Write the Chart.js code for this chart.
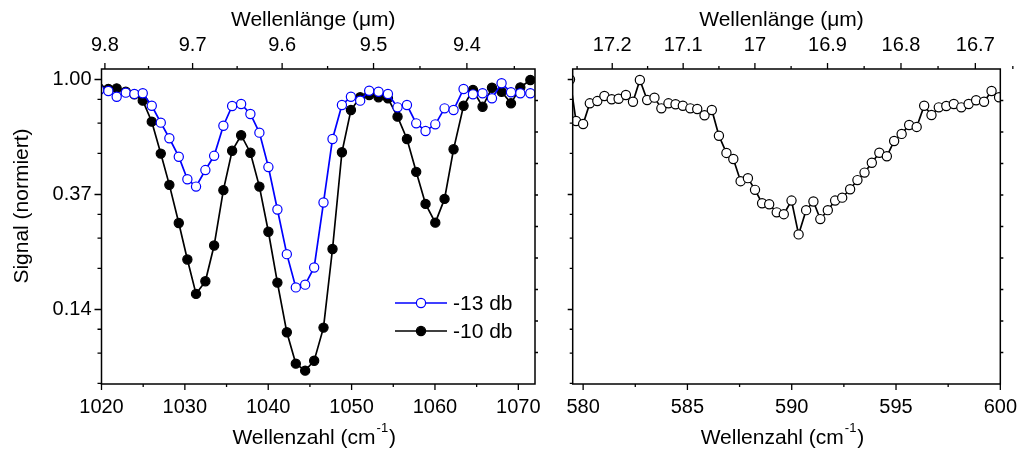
<!DOCTYPE html>
<html>
<head>
<meta charset="utf-8">
<script src="https://cdn.jsdelivr.net/npm/chart.js@4.4.0/dist/chart.umd.min.js"></script>
<style>
  body { margin: 0; background: #fff; }
  #wrap { position: relative; width: 1028px; height: 451px; }
  canvas { position: absolute; top: 0; }
</style>
</head>
<body>
<div id="wrap">
  <canvas id="links" width="555" height="451" style="left:0"></canvas>
  <canvas id="rechts" width="473" height="451" style="left:555px"></canvas>
</div>
<script>
// linkes Bild: Wellenzahl (cm-1) und Signal fuer -13 db / -10 db
const wnL = [1019.74, 1020.82, 1021.82, 1022.91, 1023.94, 1024.95, 1026.03, 1027.11, 1028.14, 1029.27,
  1030.30, 1031.34, 1032.46, 1033.51, 1034.62, 1035.67, 1036.75, 1037.86, 1038.94, 1040.02,
  1041.10, 1042.23, 1043.31, 1044.43, 1045.51, 1046.63, 1047.71, 1048.84, 1049.92, 1051.03,
  1052.11, 1053.23, 1054.36, 1055.51, 1056.64, 1057.75, 1058.87, 1060.04, 1061.15, 1062.23,
  1063.43, 1064.56, 1065.71, 1066.84, 1067.99, 1069.12, 1070.24, 1071.44];
const sig13 = [0.913, 0.905, 0.861, 0.892, 0.882, 0.887, 0.796, 0.687, 0.600, 0.511,
  0.420, 0.394, 0.455, 0.515, 0.669, 0.794, 0.808, 0.741, 0.630, 0.467,
  0.323, 0.219, 0.164, 0.168, 0.195, 0.343, 0.596, 0.801, 0.861, 0.832,
  0.907, 0.899, 0.882, 0.785, 0.801, 0.683, 0.639, 0.677, 0.778, 0.767,
  0.921, 0.879, 0.887, 0.849, 0.968, 0.895, 0.887, 0.887];
const sig10 = [0.926, 0.921, 0.926, 0.899, 0.879, 0.832, 0.693, 0.525, 0.400, 0.287,
  0.209, 0.155, 0.173, 0.236, 0.382, 0.538, 0.616, 0.529, 0.394, 0.266,
  0.171, 0.111, 0.0845, 0.0795, 0.0867, 0.1156, 0.229, 0.531, 0.767, 0.857,
  0.874, 0.857, 0.849, 0.724, 0.596, 0.448, 0.339, 0.288, 0.354, 0.545,
  0.796, 0.913, 0.789, 0.931, 0.899, 0.813, 0.934, 0.996];

// rechtes Bild
const wnR = [579.37, 579.66, 580.00, 580.32, 580.68, 581.02, 581.37, 581.70, 582.05, 582.39,
  582.72, 583.07, 583.42, 583.75, 584.09, 584.43, 584.78, 585.14, 585.47, 585.82,
  586.17, 586.51, 586.87, 587.20, 587.55, 587.90, 588.24, 588.58, 588.92, 589.28,
  589.62, 589.99, 590.33, 590.69, 591.04, 591.37, 591.73, 592.08, 592.42, 592.80,
  593.15, 593.49, 593.84, 594.20, 594.56, 594.91, 595.27, 595.63, 595.99, 596.35,
  596.70, 597.05, 597.41, 597.77, 598.13, 598.48, 598.84, 599.22, 599.58, 599.94];
const sigR = [1.0, 0.697, 0.679, 0.813, 0.829, 0.866, 0.842, 0.846, 0.874, 0.824,
  0.996, 0.837, 0.854, 0.778, 0.813, 0.806, 0.796, 0.778, 0.774, 0.733,
  0.767, 0.613, 0.528, 0.501, 0.413, 0.424, 0.383, 0.341, 0.338, 0.315,
  0.310, 0.349, 0.260, 0.321, 0.346, 0.297, 0.321, 0.349, 0.358, 0.385,
  0.417, 0.445, 0.485, 0.529, 0.513, 0.586, 0.623, 0.673, 0.662, 0.796,
  0.734, 0.785, 0.794, 0.808, 0.785, 0.808, 0.835, 0.824, 0.905, 0.857];

// Achsenbeschriftungen
const wnTicksL = [1020, 1030, 1040, 1050, 1060, 1070];
const wnMinorL = [1025, 1035, 1045, 1055, 1065];
const wlTicksL = [9.8, 9.7, 9.6, 9.5, 9.4];
const wlMinorL = [9.75, 9.65, 9.55, 9.45, 9.35];
const wnTicksR = [580, 585, 590, 595, 600];
const wnMinorR = [582.5, 587.5, 592.5, 597.5];
const wlTicksR = [17.2, 17.1, 17, 16.9, 16.8, 16.7];
const wlMinorR = [17.25, 17.15, 17.05, 16.95, 16.85, 16.75, 16.65];
const yTicks = [Math.exp(0), Math.exp(-1), Math.exp(-2)];   // 1.00, 0.37, 0.14

const yMin = 0.0708, yMax = 1.0956;
const FONT = "'Liberation Sans', Arial, sans-serif";
Chart.defaults.font.family = FONT;
Chart.defaults.font.size = 20;
Chart.defaults.color = '#000';

// Nebenstriche linear zwischen den e-Potenzen (wie Origin)
const yMinor = [];
for (let k = 0; k < 3; k++) {
  const hi = Math.exp(-k), lo = Math.exp(-k - 1);
  for (let j = 1; j <= 3; j++) yMinor.push(hi - j * (hi - lo) / 4);
}

function fmtWl(v) {
  return String(parseFloat((1e4 / v).toFixed(1)));
}

// Rahmen + Striche nach aussen
function rahmen(marks) {
  return {
    id: 'rahmen',
    afterDraw(chart) {
      const { ctx, chartArea: a, scales } = chart;
      ctx.save();
      ctx.strokeStyle = '#000';
      ctx.lineWidth = 1.3;
      ctx.beginPath();
      marks.forEach(m => {
        const sc = scales[m.scale];
        m.values.forEach(v => {
          const p = sc.getPixelForValue(v);
          if (m.side === 'bottom') { ctx.moveTo(p, a.bottom); ctx.lineTo(p, a.bottom + m.len); }
          if (m.side === 'top') { ctx.moveTo(p, a.top); ctx.lineTo(p, a.top - m.len); }
          if (m.side === 'left') { ctx.moveTo(a.left, p); ctx.lineTo(a.left - m.len, p); }
          if (m.side === 'right') { ctx.moveTo(a.right, p); ctx.lineTo(a.right + m.len, p); }
        });
      });
      ctx.stroke();
      ctx.lineWidth = 1.5;
      ctx.strokeRect(a.left, a.top, a.right - a.left, a.bottom - a.top);
      ctx.restore();
    }
  };
}

// Achsentitel
function titel(withY) {
  return {
    id: 'titel',
    afterDraw(chart) {
      const { ctx, chartArea: a } = chart;
      const cx = (a.left + a.right) / 2;
      ctx.save();
      ctx.fillStyle = '#000';
      ctx.textBaseline = 'middle';
      ctx.font = '21px ' + FONT;
      ctx.textAlign = 'center';
      ctx.fillText('Wellenlänge (μm)', cx - 5, 20);

      // Wellenzahl (cm^-1)
      const t1 = 'Wellenzahl (cm', t2 = '-1', t3 = ')';
      ctx.font = '21px ' + FONT;
      const w1 = ctx.measureText(t1).width, w3 = ctx.measureText(t3).width;
      ctx.font = '13px ' + FONT;
      const w2 = ctx.measureText(t2).width;
      let x0 = cx - 5 - (w1 + w2 + w3) / 2;
      ctx.textAlign = 'left';
      ctx.font = '21px ' + FONT;
      ctx.fillText(t1, x0, 438);
      ctx.font = '13px ' + FONT;
      ctx.fillText(t2, x0 + w1 + 1, 428);
      ctx.font = '21px ' + FONT;
      ctx.fillText(t3, x0 + w1 + w2 + 2, 438);

      if (withY) {
        ctx.translate(22, 206);
        ctx.rotate(-Math.PI / 2);
        ctx.textAlign = 'center';
        ctx.fillText('Signal (normiert)', 0, 0);
      }
      ctx.restore();
    }
  };
}

// Legende im linken Bild
const legende = {
  id: 'legende',
  afterDraw(chart) {
    const { ctx } = chart;
    ctx.save();
    ctx.font = '21px ' + FONT;
    ctx.textBaseline = 'middle';
    ctx.textAlign = 'left';
    chart.data.datasets.forEach((ds, i) => {
      const y = 303 + i * 28;
      ctx.strokeStyle = ds.borderColor;
      ctx.lineWidth = ds.borderWidth;
      ctx.beginPath();
      ctx.moveTo(395, y); ctx.lineTo(447, y);
      ctx.stroke();
      ctx.beginPath();
      ctx.arc(421, y, ds.pointRadius, 0, Math.PI * 2);
      ctx.fillStyle = ds.pointBackgroundColor;
      ctx.fill();
      ctx.lineWidth = ds.pointBorderWidth;
      ctx.strokeStyle = ds.pointBorderColor;
      ctx.stroke();
      ctx.fillStyle = '#000';
      ctx.fillText(ds.label, 453, y + 1);
    });
    ctx.restore();
  }
};

const noGrid = { display: false, drawTicks: false };
const noBorder = { display: false };

function xAchse(min, max, ticks, h) {
  return {
    type: 'linear', position: 'bottom', min, max,
    grid: noGrid, border: noBorder,
    afterBuildTicks: s => { s.ticks = ticks.map(v => ({ value: v })); },
    afterFit: s => { s.height = h; },
    ticks: { padding: 11, maxRotation: 0, autoSkip: false, callback: v => String(v) }
  };
}
function topAchse(min, max, wl, h) {
  return {
    type: 'linear', position: 'top', min, max,
    grid: noGrid, border: noBorder,
    afterBuildTicks: s => { s.ticks = wl.map(l => ({ value: 1e4 / l })); },
    afterFit: s => { s.height = h; },
    ticks: { padding: 12, maxRotation: 0, autoSkip: false, callback: v => fmtWl(v) }
  };
}
function yAchse(w, labels) {
  return {
    type: 'logarithmic', position: 'left', min: yMin, max: yMax,
    grid: noGrid, border: noBorder,
    afterBuildTicks: s => { s.ticks = yTicks.map(v => ({ value: v })); },
    afterFit: s => { s.width = w; },
    ticks: { display: labels, padding: 10, autoSkip: false, callback: v => v.toFixed(2) }
  };
}
function rAchse(w) {
  return {
    type: 'linear', position: 'right', min: 0, max: 10,
    grid: noGrid, border: noBorder,
    ticks: { display: false, stepSize: 1 },
    afterFit: s => { s.width = w; }
  };
}

const rightTicks = [1, 2, 3, 4, 5, 6, 7, 8, 9];

new Chart(document.getElementById('links'), {
  type: 'line',
  data: {
    datasets: [
      {
        label: '-13 db',
        data: wnL.map((x, i) => ({ x, y: sig13[i] })),
        borderColor: '#0000ff', borderWidth: 1.7,
        pointBackgroundColor: '#ffffff', pointBorderColor: '#0000ff',
        pointRadius: 4.6, pointBorderWidth: 1.2, tension: 0
      },
      {
        label: '-10 db',
        data: wnL.map((x, i) => ({ x, y: sig10[i] })),
        borderColor: '#000000', borderWidth: 1.7,
        pointBackgroundColor: '#000000', pointBorderColor: '#000000',
        pointRadius: 4.6, pointBorderWidth: 1.2, tension: 0
      }
    ]
  },
  options: {
    responsive: false, animation: false, events: [],
    layout: { padding: 0 },
    plugins: { legend: { display: false }, tooltip: { enabled: false } },
    scales: {
      x: xAchse(1020, 1072, wnTicksL, 67),
      xt: topAchse(1020, 1072, wlTicksL, 69),
      y: yAchse(101.5, true),
      yr: rAchse(20)
    }
  },
  plugins: [
    rahmen([
      { scale: 'x', side: 'bottom', len: 6, values: wnTicksL },
      { scale: 'x', side: 'bottom', len: 3, values: wnMinorL },
      { scale: 'x', side: 'top', len: 6, values: wlTicksL.map(l => 1e4 / l) },
      { scale: 'x', side: 'top', len: 3, values: wlMinorL.map(l => 1e4 / l) },
      { scale: 'y', side: 'left', len: 7, values: yTicks },
      { scale: 'y', side: 'left', len: 4, values: yMinor },
      { scale: 'yr', side: 'right', len: 3, values: rightTicks }
    ]),
    titel(true),
    legende
  ]
});

new Chart(document.getElementById('rechts'), {
  type: 'line',
  data: {
    datasets: [
      {
        label: 'Signal',
        data: wnR.map((x, i) => ({ x, y: sigR[i] })),
        borderColor: '#000000', borderWidth: 1.7,
        pointBackgroundColor: '#ffffff', pointBorderColor: '#000000',
        pointRadius: 4.6, pointBorderWidth: 1.2, tension: 0
      }
    ]
  },
  options: {
    responsive: false, animation: false, events: [],
    layout: { padding: 0 },
    plugins: { legend: { display: false }, tooltip: { enabled: false } },
    scales: {
      x: xAchse(579.5, 600, wnTicksR, 67),
      xt: topAchse(579.5, 600, wlTicksR, 69),
      y: yAchse(17.7, false),
      yr: rAchse(21)
    }
  },
  plugins: [
    rahmen([
      { scale: 'x', side: 'bottom', len: 6, values: wnTicksR },
      { scale: 'x', side: 'bottom', len: 3, values: wnMinorR },
      { scale: 'x', side: 'top', len: 6, values: wlTicksR.map(l => 1e4 / l) },
      { scale: 'x', side: 'top', len: 3, values: wlMinorR.map(l => 1e4 / l) },
      { scale: 'y', side: 'left', len: 5, values: yTicks },
      { scale: 'y', side: 'left', len: 3, values: yMinor },
      { scale: 'yr', side: 'right', len: 3, values: rightTicks }
    ]),
    titel(false)
  ]
});
</script>
</body>
</html>
